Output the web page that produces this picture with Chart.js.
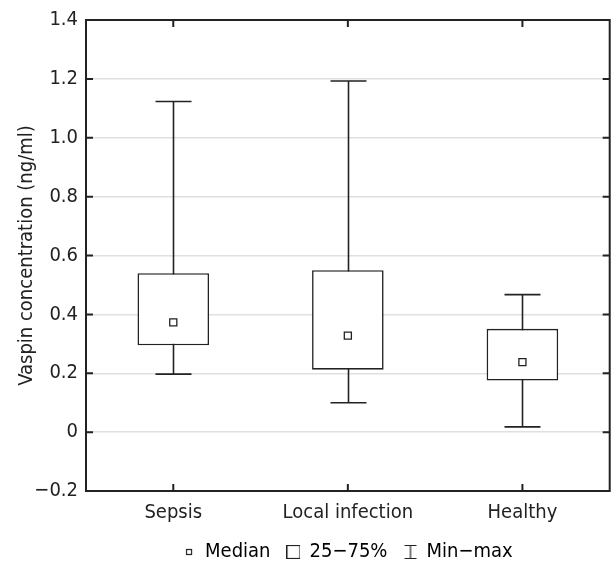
<!DOCTYPE html>
<html>
<head>
<meta charset="utf-8">
<script src="https://cdn.jsdelivr.net/npm/chart.js@4.4.1/dist/chart.umd.min.js"></script>
<style>
  html, body { margin: 0; padding: 0; background: #fff; }
  #wrap { width: 616px; height: 563px; }
</style>
</head>
<body>
<div id="wrap"><canvas id="chart"></canvas></div>
<script>
// Veriler
const categories = ['Sepsis', 'Local infection', 'Healthy'];
const minVals = [0.197, 0.100, 0.018];
const q1Vals = [0.295, 0.212, 0.175];
const medianVals = [0.373, 0.328, 0.238];
const q3Vals = [0.540, 0.550, 0.351];
const maxVals = [1.123, 1.193, 0.467];
const legendLabels = ['Median', '25\u221275%', 'Min\u2212max'];

const FONT = "'Liberation Sans Narrow', 'DejaVu Sans Condensed', 'Arial Narrow', sans-serif";
const INK = '#222';

// Lejant ikonlarını küçük canvas'lara çiz
function makeIcon(w, h, drawFn) {
    const c = document.createElement('canvas');
    c.width = w;
    c.height = h;
    const ctx = c.getContext('2d');
    ctx.strokeStyle = INK;
    ctx.fillStyle = '#fff';
    ctx.lineWidth = 1.2;
    drawFn(ctx);
    return c;
}
const medianIcon = makeIcon(14, 14, ctx => { ctx.fillRect(4, 4, 6, 6); ctx.strokeRect(4.5, 4.5, 5, 5); });
const boxIcon = makeIcon(14, 14, ctx => { ctx.strokeRect(0.5, 0.5, 13, 13); });
const whiskerIcon = makeIcon(14, 14, ctx => {
    ctx.beginPath();
    ctx.moveTo(1, 0.5); ctx.lineTo(13, 0.5);
    ctx.moveTo(7, 0.5); ctx.lineTo(7, 13.5);
    ctx.moveTo(1, 13.5); ctx.lineTo(13, 13.5);
    ctx.stroke();
});
const legendIcons = [medianIcon, boxIcon, whiskerIcon];

// Bıyıkları (min-max) çizen eklenti
const whiskerPlugin = {
    id: 'whiskers',
    beforeDatasetsDraw(chart) {
        const { ctx, scales: { x, y } } = chart;
        const cap = 18;
        ctx.save();
        ctx.strokeStyle = INK;
        ctx.lineWidth = 1.6;
        categories.forEach((_, i) => {
            const cx = Math.round(x.getPixelForValue(i)) + 0.5;
            const yMin = y.getPixelForValue(minVals[i]);
            const yMax = y.getPixelForValue(maxVals[i]);
            ctx.beginPath();
            ctx.moveTo(cx, yMin); ctx.lineTo(cx, yMax);
            ctx.moveTo(cx - cap, yMax); ctx.lineTo(cx + cap, yMax);
            ctx.moveTo(cx - cap, yMin); ctx.lineTo(cx + cap, yMin);
            ctx.stroke();
        });
        ctx.restore();
    }
};

// Çerçeve ve içe dönük tik işaretleri
const framePlugin = {
    id: 'frame',
    afterDatasetsDraw(chart) {
        const { ctx, chartArea: a, scales: { x, y } } = chart;
        const t = 7;
        ctx.save();
        ctx.strokeStyle = INK;
        ctx.lineWidth = 2;
        ctx.strokeRect(a.left, a.top, a.right - a.left, a.bottom - a.top);
        ctx.beginPath();
        y.ticks.forEach((tk, i) => {
            const py = y.getPixelForTick(i);
            ctx.moveTo(a.left, py); ctx.lineTo(a.left + t, py);
            ctx.moveTo(a.right, py); ctx.lineTo(a.right - t, py);
        });
        categories.forEach((_, i) => {
            const px = x.getPixelForValue(i);
            ctx.moveTo(px, a.top); ctx.lineTo(px, a.top + t);
            ctx.moveTo(px, a.bottom); ctx.lineTo(px, a.bottom - t);
        });
        ctx.stroke();
        ctx.restore();
    }
};

// Lejantı çizim alanının ortasına kaydır
const legendShift = {
    id: 'legendShift',
    afterLayout(chart) {
        const a = chart.chartArea;
        const dx = (a.left + a.right) / 2 - (chart.legend.left + chart.legend.right) / 2;
        chart.legend.left += dx;
        chart.legend.right += dx;
    }
};

new Chart(document.getElementById('chart'), {
    type: 'bar',
    data: {
        labels: categories,
        datasets: [
            {
                type: 'line',
                label: legendLabels[0],
                data: medianVals,
                showLine: false,
                pointStyle: 'rect',
                pointRadius: 5,
                pointBorderWidth: 1.3,
                pointBackgroundColor: '#fff',
                pointBorderColor: INK,
                order: 0
            },
            {
                label: legendLabels[1],
                data: q1Vals.map((v, i) => [v, q3Vals[i]]),
                backgroundColor: '#fff',
                borderColor: INK,
                borderWidth: 1.6,
                borderSkipped: false,
                barPercentage: 0.41,
                categoryPercentage: 1,
                order: 1
            }
        ]
    },
    options: {
        responsive: true,
        maintainAspectRatio: false,
        animation: false,
        layout: { padding: { top: 20, right: 3, left: 0, bottom: -9 } },
        scales: {
            x: {
                offset: true,
                grid: { display: false, drawTicks: false },
                border: { display: false },
                ticks: { color: '#222', font: { family: FONT, size: 20 }, padding: 10 },
                afterFit: s => { s.height = 34; }
            },
            y: {
                min: -0.2,
                max: 1.4,
                grid: { color: '#e0e0e0', lineWidth: 1.5, drawTicks: false },
                border: { display: false },
                ticks: {
                    stepSize: 0.2,
                    color: '#222',
                    padding: 8,
                    font: { family: FONT, size: 20 },
                    callback: v => {
                        const r = Math.round(v * 10) / 10;
                        if (r === 0) return '0';
                        return r < 0 ? '\u2212' + Math.abs(r).toFixed(1) : r.toFixed(1);
                    }
                },
                title: {
                    display: true,
                    text: 'Vaspin concentration (ng/ml)',
                    color: '#222',
                    font: { family: FONT, size: 20 },
                    padding: { top: 15, bottom: 0 }
                },
                afterFit: s => { s.width = 86; }
            }
        },
        plugins: {
            tooltip: { enabled: false },
            legend: {
                position: 'bottom',
                labels: {
                    color: '#222',
                    font: { family: FONT, size: 20 },
                    usePointStyle: true,
                    pointStyleWidth: 12,
                    padding: 17,
                    generateLabels: () => legendLabels.map((txt, i) => ({
                        text: txt,
                        pointStyle: legendIcons[i],
                        fillStyle: '#fff',
                        strokeStyle: INK,
                        lineWidth: 0,
                        hidden: false,
                        datasetIndex: i
                    }))
                }
            }
        }
    },
    plugins: [whiskerPlugin, framePlugin, legendShift]
});
</script>
</body>
</html>
